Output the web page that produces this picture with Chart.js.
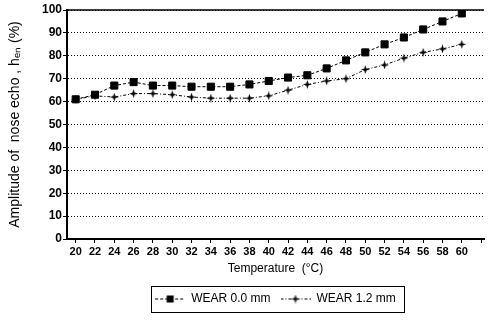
<!DOCTYPE html>
<html>
<head>
<meta charset="utf-8">
<script src="https://cdn.jsdelivr.net/npm/chart.js@4.4.1/dist/chart.umd.min.js"></script>
<style>
  html, body { margin: 0; padding: 0; background: #fff; }
  #wrap { width: 490px; height: 331px; position: relative; }
</style>
</head>
<body>
<div id="wrap"><canvas id="echoChart" width="490" height="331"></canvas></div>
<script>
// Temperatures (°C) and nose echo amplitude (%)
const temperatures = [20, 22, 24, 26, 28, 30, 32, 34, 36, 38, 40, 42, 44, 46, 48, 50, 52, 54, 56, 58, 60];
const wear00 = [61, 63, 67, 68.5, 67, 67, 66.5, 66.5, 66.5, 67.5, 69, 70.5, 71.5, 74.5, 78, 81.5, 85, 88, 91.5, 95, 98.5];
const wear12 = [61, 62.5, 62, 63.5, 63.5, 63, 62, 61.5, 61.5, 61.5, 62.5, 65, 67.5, 69, 70, 74, 76, 79, 81.5, 83, 85];
const xTicks = [20, 22, 24, 26, 28, 30, 32, 34, 36, 38, 40, 42, 44, 46, 48, 50, 52, 54, 56, 58, 60, 62];
const seriesNames = ['WEAR 0.0 mm', 'WEAR 1.2 mm'];

const FONT = 'Liberation Sans, Arial, sans-serif';

// petite étoile à 4 branches pour la série 1.2 mm
function starMarker() {
    const c = document.createElement('canvas');
    c.width = 9; c.height = 9;
    const g = c.getContext('2d');
    g.fillStyle = '#000';
    g.beginPath();
    g.moveTo(4.5, 0); g.lineTo(5.6, 3.4); g.lineTo(9, 4.5); g.lineTo(5.6, 5.6);
    g.lineTo(4.5, 9); g.lineTo(3.4, 5.6); g.lineTo(0, 4.5); g.lineTo(3.4, 3.4);
    g.closePath();
    g.fill();
    return c;
}

// échantillon de légende : trait pointillé + marqueur
function legendSample(kind) {
    const c = document.createElement('canvas');
    c.width = 30; c.height = 9;
    const g = c.getContext('2d');
    g.strokeStyle = '#000';
    g.lineWidth = 1;
    g.setLineDash(kind === 'rect' ? [3, 2] : [3, 2, 1, 2]);
    g.beginPath(); g.moveTo(0, 4.5); g.lineTo(30, 4.5); g.stroke();
    g.fillStyle = '#000';
    if (kind === 'rect') {
        g.fillRect(11.5, 1, 7, 7);
    } else {
        g.drawImage(starMarker(), 10.5, 0);
    }
    return c;
}

const star = starMarker();
const legendImgs = [legendSample('rect'), legendSample('star')];

const extras = {
    id: 'extras',
    afterLayout(chart) {
        // légende décalée vers la droite comme sur l'original
        chart.legend.left += 31;
        chart.legend.right += 31;
    },
    afterDraw(chart) {
        const ctx = chart.ctx;
        const y = chart.scales.y;
        const a = chart.chartArea;
        // ligne pleine à 100
        ctx.save();
        ctx.strokeStyle = '#000';
        ctx.lineWidth = 1.5;
        const top = y.getPixelForValue(100);
        ctx.beginPath(); ctx.moveTo(a.left, top); ctx.lineTo(a.right, top); ctx.stroke();
        // cadre de la légende
        const boxes = chart.legend.legendHitBoxes;
        if (boxes && boxes.length) {
            const first = boxes[0], last = boxes[boxes.length - 1];
            const l = first.left - 4, r = last.left + last.width + 8;
            const t = first.top - 7, b = first.top + first.height + 7;
            ctx.lineWidth = 1;
            ctx.strokeRect(Math.round(l) + 0.5, Math.round(t) + 0.5, Math.round(r - l), Math.round(b - t));
        }
        ctx.restore();
    }
};

new Chart(document.getElementById('echoChart'), {
    type: 'line',
    data: {
        datasets: [
            {
                label: seriesNames[0],
                data: temperatures.map((t, i) => ({ x: t, y: wear00[i] })),
                borderColor: '#000',
                borderWidth: 1,
                borderDash: [3, 2],
                pointStyle: 'rect',
                pointRadius: 5,
                pointBackgroundColor: '#000',
                pointBorderColor: '#000',
                tension: 0
            },
            {
                label: seriesNames[1],
                data: temperatures.map((t, i) => ({ x: t, y: wear12[i] })),
                borderColor: '#000',
                borderWidth: 1,
                borderDash: [3, 2, 1, 2],
                pointStyle: star,
                pointRadius: 4,
                pointBackgroundColor: '#000',
                pointBorderColor: '#000',
                tension: 0
            }
        ]
    },
    options: {
        responsive: false,
        animation: false,
        events: [],
        layout: { padding: { left: 4, right: 5, top: 10, bottom: 16 } },
        plugins: {
            tooltip: { enabled: false },
            legend: {
                position: 'bottom',
                labels: {
                    color: '#000',
                    usePointStyle: true,
                    pointStyleWidth: 30,
                    boxHeight: 9,
                    padding: 10,
                    font: { family: FONT, size: 12 },
                    generateLabels(chart) {
                        const items = Chart.defaults.plugins.legend.labels.generateLabels(chart);
                        items.forEach((it, i) => { it.pointStyle = legendImgs[i]; });
                        return items;
                    }
                }
            }
        },
        scales: {
            x: {
                type: 'linear',
                min: 19.1,
                max: 62.3,
                afterBuildTicks(scale) { scale.ticks = xTicks.map(v => ({ value: v })); },
                afterFit(scale) { scale.height = 44; },
                grid: { drawOnChartArea: false, drawTicks: true, tickLength: 4, color: '#000' },
                border: { color: '#000', width: 2 },
                ticks: {
                    color: '#000',
                    padding: 2,
                    maxRotation: 0,
                    autoSkip: false,
                    font: { family: FONT, size: 11, weight: 'bold' },
                    callback: v => (v === 62 ? '' : v)
                },
                title: {
                    display: true,
                    text: 'Temperature  (\u00B0C)',
                    color: '#000',
                    padding: { top: 2, bottom: 7 },
                    font: { family: FONT, size: 12 }
                }
            },
            y: {
                min: 0,
                max: 100,
                afterFit(scale) { scale.width = 63; },
                grid: { color: '#000', lineWidth: 1, tickLength: 4, tickBorderDash: [] },
                border: { color: '#000', width: 2, dash: [1, 2] },
                ticks: {
                    stepSize: 10,
                    color: '#000',
                    padding: 1,
                    font: { family: FONT, size: 12, weight: 'bold' }
                },
                title: {
                    display: true,
                    text: 'Amplitude of  nose echo , h\u2091\u2099 (%)',
                    color: '#000',
                    padding: { top: 3, bottom: 0 },
                    font: { family: FONT, size: 14 }
                }
            }
        }
    },
    plugins: [extras]
});
</script>
</body>
</html>
